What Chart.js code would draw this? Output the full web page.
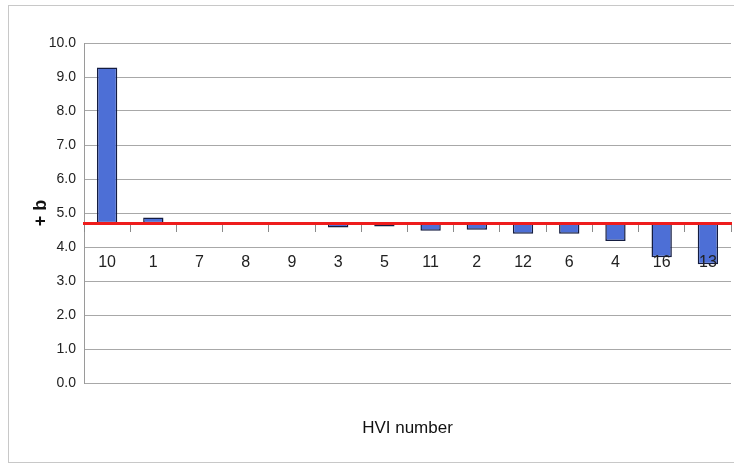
<!DOCTYPE html>
<html>
<head>
<meta charset="utf-8">
<script src="https://cdn.jsdelivr.net/npm/chart.js@4/dist/chart.umd.min.js"></script>
<style>
  html, body { margin: 0; padding: 0; background: #ffffff; }
  #wrap { width: 734px; height: 464px; }
</style>
</head>
<body>
<div id="wrap"><canvas id="c" width="734" height="464"></canvas></div>
<script>
const categories = ['10', '1', '7', '8', '9', '3', '5', '11', '2', '12', '6', '4', '16', '13'];
const baseline = 4.7;
const values = [9.28, 4.87, 4.7, 4.7, 4.71, 4.57, 4.6, 4.48, 4.51, 4.39, 4.39, 4.18, 3.7, 3.49];
const yTicks = [0, 1, 2, 3, 4, 5, 6, 7, 8, 9, 10];

const FONT = "'Liberation Sans Narrow', 'Arial Narrow', 'Liberation Sans', Arial, sans-serif";

const framePlugin = {
  id: 'frame',
  beforeDraw(chart) {
    const ctx = chart.ctx;
    ctx.save();
    ctx.fillStyle = '#ffffff';
    ctx.fillRect(0, 0, chart.width, chart.height);
    ctx.strokeStyle = '#c8c8c8';
    ctx.lineWidth = 1;
    ctx.strokeRect(8.5, 5.5, chart.width + 10, chart.height - 7);
    ctx.restore();
  }
};

new Chart(document.getElementById('c'), {
  type: 'bar',
  data: {
    labels: categories,
    datasets: [{
      data: values.map(v => [baseline, v]),
      backgroundColor: '#4d6fd6',
      borderColor: '#141c40',
      borderWidth: 1.5,
      borderSkipped: false,
      barPercentage: 0.44,
      categoryPercentage: 1.0
    }]
  },
  options: {
    responsive: false,
    animation: false,
    devicePixelRatio: 1,
    layout: { padding: { top: 43, right: 3, left: 0, bottom: 0 } },
    plugins: { legend: { display: false }, tooltip: { enabled: false }, title: { display: false } },
    scales: {
      x: {
        type: 'category',
        position: { y: baseline },
        offset: true,
        grid: { display: true, drawOnChartArea: false, offset: true, tickLength: 7, tickColor: '#8a8a8a', tickWidth: 1, z: 1 },
        border: { display: true, color: '#ee1c1c', width: 3, z: 1 },
        ticks: { color: '#222', font: { family: FONT, size: 16 }, padding: 23, maxRotation: 0, autoSkip: false, z: 1 },
        afterFit(scale) { scale.paddingLeft = 0; scale.paddingRight = 0; }
      },
      xTitle: {
        type: 'category',
        position: 'bottom',
        labels: categories,
        offset: true,
        grid: { display: false, drawTicks: false },
        border: { display: false },
        ticks: { display: false },
        title: { display: true, text: 'HVI number', color: '#111', font: { family: FONT, size: 17 }, padding: { top: 0, bottom: 25 } },
        afterFit(scale) { scale.height = 81; scale.paddingLeft = 0; scale.paddingRight = 0; }
      },
      y: {
        min: 0,
        max: 10,
        afterBuildTicks(scale) { scale.ticks = yTicks.map(v => ({ value: v })); },
        grid: { color: '#a8a8a8', lineWidth: 1, drawTicks: false },
        border: { display: true, color: '#9a9a9a', width: 1 },
        ticks: { color: '#222', font: { family: FONT, size: 14 }, padding: 8, callback: v => Number(v).toFixed(1) },
        title: { display: true, text: '+ b', color: '#111', font: { family: FONT, size: 18, weight: 'bold' }, padding: { top: 30, bottom: 0 } },
        afterFit(scale) { scale.width = 84; }
      }
    }
  },
  plugins: [framePlugin]
});
</script>
</body>
</html>
